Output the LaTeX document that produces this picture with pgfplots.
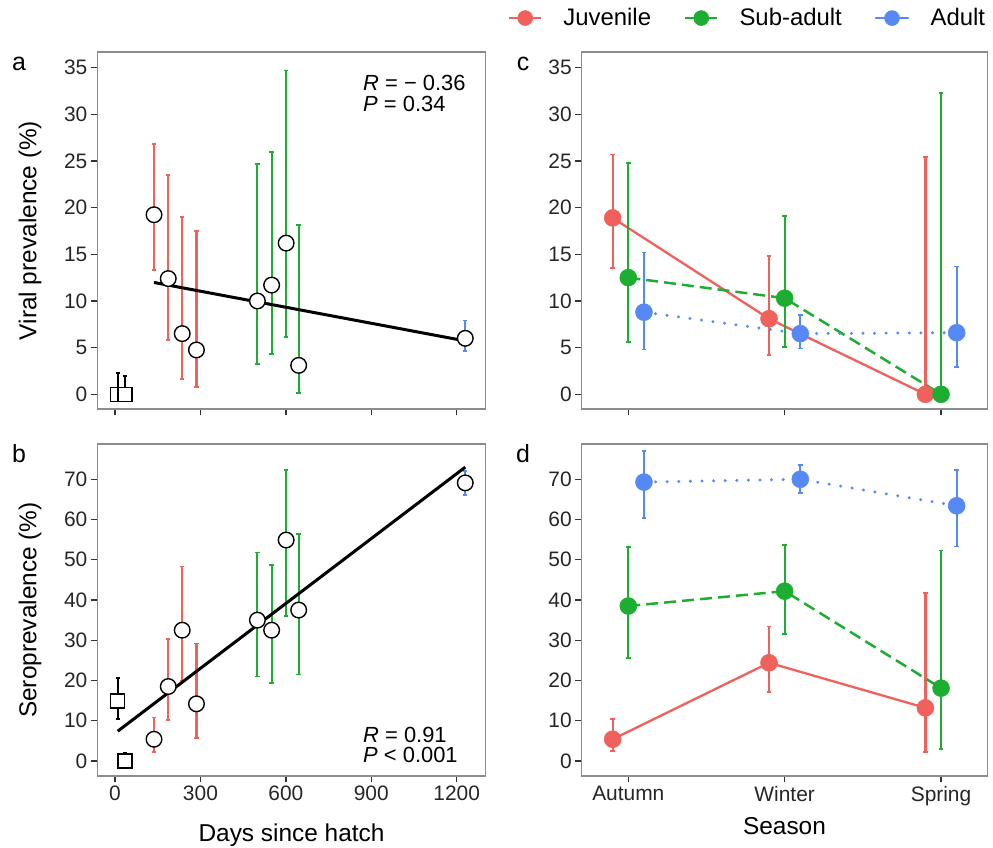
\documentclass[border=0pt]{standalone}
\usepackage{fontspec}
\setmainfont{Liberation Sans}
\usepackage{pgfplots}
\pgfplotsset{compat=1.18}
\definecolor{cjuv}{HTML}{F0615C}
\definecolor{csub}{HTML}{1DAD31}
\definecolor{cadu}{HTML}{5689F5}
\definecolor{framec}{HTML}{8C8C8C}

\pgfplotsset{
  base/.style={
    scale only axis,
    axis line style={draw=framec, line width=1.1bp},
    xtick pos=bottom, ytick pos=left,
    tick align=outside,
    major tick length=6.5bp,
    every tick/.style={black!80, line width=1.3bp},
    tick label style={font=\fontsize{21}{25}\selectfont, text=black!85,
      /pgf/number format/assume math mode=true,
      /pgf/number format/1000 sep={}},
  },
  err/.style={error bars/.cd, y dir=both, y explicit,
    error bar style={line width=2.2bp, solid, line cap=butt, #1},
    error mark options={rotate=90, line width=1.8bp, solid, mark size=2.2bp, #1}},
  opencirc/.style={only marks, mark=*, mark size=7.8bp,
    mark options={draw=black, fill=white, line width=1.4bp, solid}},
  opensq/.style={only marks, mark=square*, mark size=7bp,
    mark options={draw=black, fill=white, line width=1.4bp, solid}},
  juvs/.style={cjuv, line width=2.3bp, mark=*, mark size=8.5bp,
    mark options={solid, fill=cjuv, draw=cjuv, line width=0.5bp}, err=cjuv},
  subs/.style={csub, line width=2.5bp, dash pattern=on 12bp off 6bp, mark=*, mark size=8.5bp,
    mark options={solid, fill=csub, draw=csub, line width=0.5bp}, err=csub},
  adus/.style={cadu, line width=3.2bp, line cap=round, dash pattern=on 0.1bp off 11.5bp, mark=*, mark size=8.5bp,
    mark options={solid, fill=cadu, draw=cadu, line width=0.5bp}, err=cadu},
}

\begin{document}
\begin{tikzpicture}[x=1bp,y=1bp]
\useasboundingbox (0,0) rectangle (993,848);

% ---------------- panel a ----------------
\begin{axis}[base, at={(97.3bp,439bp)}, anchor=south west,
  width=388.4bp, height=357bp,
  xmin=-62.2, xmax=1301.8, ymin=-1.575, ymax=36.68,
  xtick={0,300,600,900,1200}, xticklabels={},
  ytick={0,5,...,35}]
\addplot[cjuv, opencirc, err=cjuv] table[x=x,y=y,y error plus=ep,y error minus=em] {
x y ep em
137 19.24 7.56 5.94
187 12.4 11.1 6.6
236 6.5 12.5 4.9
286 4.75 12.75 3.95
};
\addplot[csub, opencirc, err=csub] table[x=x,y=y,y error plus=ep,y error minus=em] {
x y ep em
500 10.0 14.7 6.75
550 11.7 14.3 7.4
601 16.2 18.5 10.1
645 3.1 15.0 3.0
};
\addplot[cadu, opencirc, err=cadu] table[x=x,y=y,y error plus=ep,y error minus=em] {
x y ep em
1230 6.0 1.9 1.4
};
\addplot[black, opensq, err=black] table[x=x,y=y,y error plus=ep,y error minus=em] {
x y ep em
9.5 0 2.25 0
35 0 2.0 0
};
\addplot[black, line width=3bp, no marks] coordinates {(137,11.98) (1230,5.72)};
\node[anchor=base west, font=\fontsize{22}{26}\selectfont, inner sep=0pt] at (axis cs:871,32.5) {\textit{R} = − 0.36};
\node[anchor=base west, font=\fontsize{22}{26}\selectfont, inner sep=0pt] at (axis cs:871,30.25) {\textit{P} = 0.34};
\end{axis}

% ---------------- panel b ----------------
\begin{axis}[base, at={(97.3bp,72bp)}, anchor=south west,
  width=388.4bp, height=332bp,
  xmin=-62.2, xmax=1301.8, ymin=-3.73, ymax=78.76,
  xtick={0,300,600,900,1200},
  ytick={0,10,...,70}]
\addplot[black, opensq, err=black] table[x=x,y=y,y error plus=ep,y error minus=em] {
x y ep em
9.5 14.9 5.8 4.5
35 0 1.9 0
};
\addplot[cjuv, opencirc, err=cjuv] table[x=x,y=y,y error plus=ep,y error minus=em] {
x y ep em
137 5.4 5.4 3.1
187 18.5 11.9 8.3
236 32.5 15.8 12.5
286 14.2 15.0 8.4
};
\addplot[csub, opencirc, err=csub] table[x=x,y=y,y error plus=ep,y error minus=em] {
x y ep em
500 35.0 16.8 14.0
550 32.5 16.2 13.2
601 54.9 17.4 18.9
645 37.5 18.8 16.0
};
\addplot[cadu, opencirc, err=cadu] table[x=x,y=y,y error plus=ep,y error minus=em] {
x y ep em
1230 69.1 3.0 3.0
};
\addplot[black, line width=3bp, no marks] coordinates {(9.5,7.4) (1230,73.0)};
\node[anchor=base west, font=\fontsize{22}{26}\selectfont, inner sep=0pt] at (axis cs:871,4.47) {\textit{R} = 0.91};
\node[anchor=base west, font=\fontsize{22}{26}\selectfont, inner sep=0pt] at (axis cs:871,-0.5) {\textit{P} < 0.001};
\end{axis}

% ---------------- panel c ----------------
\begin{axis}[base, at={(581.7bp,439bp)}, anchor=south west,
  width=405.6bp, height=357bp,
  xmin=0.702, xmax=3.296, ymin=-1.575, ymax=36.68,
  xtick={1,2,3}, xticklabels={},
  ytick={0,5,...,35},
  legend columns=3,
  legend style={at={(-0.182,1.095)}, anchor=west, draw=none, fill=none,
    font=\fontsize{24}{28}\selectfont, inner sep=0pt,
    nodes={inner sep=1bp},
    /tikz/every even column/.append style={column sep=32bp}},
  legend image code/.code={
    \draw[mark repeat=2, mark phase=2, #1, solid, line width=2.3bp, mark size=7.5bp] plot coordinates {(0bp,0bp) (16bp,0bp) (32bp,0bp)};
    \path (52bp,0bp);
  }]
\addplot[juvs] table[x=x,y=y,y error plus=ep,y error minus=em] {
x y ep em
0.9 18.9 6.8 5.4
1.9 8.1 6.75 3.9
2.9 0 25.4 0
};
\addlegendentry{Juvenile}
\addplot[subs] table[x=x,y=y,y error plus=ep,y error minus=em] {
x y ep em
1 12.5 12.3 6.9
2 10.3 8.8 5.2
3 0 32.3 0
};
\addlegendentry{Sub-adult}
\addplot[adus] table[x=x,y=y,y error plus=ep,y error minus=em] {
x y ep em
1.1 8.8 6.4 4.0
2.1 6.5 2.0 1.6
3.1 6.6 7.1 3.64
};
\addlegendentry{Adult}
\end{axis}

% ---------------- panel d ----------------
\begin{axis}[base, at={(581.7bp,72bp)}, anchor=south west,
  width=405.6bp, height=332bp,
  xmin=0.702, xmax=3.296, ymin=-3.73, ymax=78.76,
  xtick={1,2,3}, xticklabels={Autumn,Winter,Spring},
  ytick={0,10,...,70}]
\addplot[juvs] table[x=x,y=y,y error plus=ep,y error minus=em] {
x y ep em
0.9 5.4 5.0 2.9
1.9 24.4 9.0 7.2
2.9 13.2 28.5 11.0
};
\addplot[subs] table[x=x,y=y,y error plus=ep,y error minus=em] {
x y ep em
1 38.5 14.6 13.0
2 42.2 11.4 10.6
3 18.1 34.2 15.1
};
\addplot[adus] table[x=x,y=y,y error plus=ep,y error minus=em] {
x y ep em
1.1 69.3 7.7 8.9
2.1 70.0 3.5 3.5
3.1 63.4 8.9 10.1
};
\end{axis}

% ---------------- labels ----------------
\node[rotate=90, font=\fontsize{24.5}{28}\selectfont] at (30,617.5) {Viral prevalence (\%)};
\node[rotate=90, font=\fontsize{24.5}{28}\selectfont] at (30,238) {Seroprevalence (\%)};
\node[anchor=base, font=\fontsize{24.5}{28}\selectfont, inner sep=0pt] at (291.5,6) {Days since hatch};
\node[anchor=base, font=\fontsize{24.5}{28}\selectfont, inner sep=0pt] at (784.5,13) {Season};
\node[anchor=base, font=\fontsize{25}{28}\selectfont, inner sep=0pt] at (19,777) {a};
\node[anchor=base, font=\fontsize{25}{28}\selectfont, inner sep=0pt] at (19,385) {b};
\node[anchor=base, font=\fontsize{25}{28}\selectfont, inner sep=0pt] at (523,777) {c};
\node[anchor=base, font=\fontsize{25}{28}\selectfont, inner sep=0pt] at (523,385) {d};
\end{tikzpicture}
\end{document}
